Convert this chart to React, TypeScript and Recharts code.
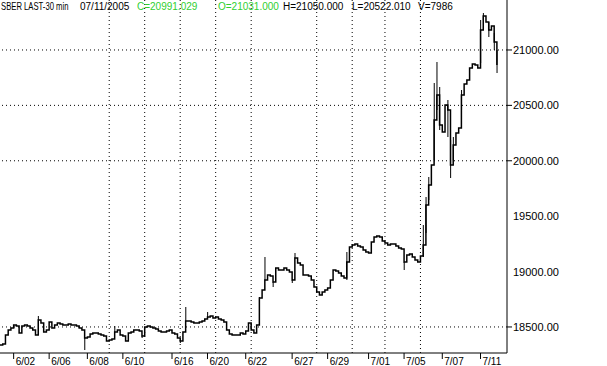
/**
 * SBER 30-minute price chart, 6/01 - 7/11/2005.
 */

import React from 'react';
import { ComposedChart, Line, Bar, XAxis, YAxis, ReferenceLine } from 'recharts';

// ============================================================================
// DATA
// ============================================================================

// close of each sampled bar, in order
const closes = [
  18337, 18346, 18428, 18473, 18491, 18518, 18509, 18446, 18509, 18518,
  18509, 18491, 18473, 18428, 18563, 18536, 18455, 18473, 18545, 18491,
  18518, 18536, 18527, 18518, 18518, 18527, 18518, 18518, 18509, 18491,
  18473, 18401, 18410, 18437, 18446, 18446, 18437, 18428, 18419, 18373,
  18382, 18392, 18455, 18473, 18428, 18419, 18373, 18446, 18455, 18473,
  18473, 18464, 18419, 18500, 18509, 18500, 18491, 18482, 18464, 18455,
  18455, 18464, 18473, 18446, 18437, 18401, 18373, 18455, 18554, 18554,
  18545, 18536, 18536, 18545, 18554, 18572, 18590, 18599, 18581, 18590,
  18572, 18563, 18545, 18473, 18437, 18428, 18428, 18428, 18446, 18437,
  18464, 18536, 18473, 18446, 18518, 18762, 18834, 18924, 18969, 18960,
  18906, 19032, 19014, 19014, 19032, 19014, 18996, 18924, 19123, 19077,
  19059, 18969, 18969, 18960, 18924, 18861, 18816, 18789, 18816, 18834,
  18852, 18924, 19014, 19005, 18987, 18960, 18942, 19086, 19222, 19240,
  19249, 19231, 19222, 19195, 19177, 19168, 19267, 19312, 19321, 19312,
  19276, 19258, 19240, 19249, 19249, 19231, 19213, 19204, 19086, 19150,
  19159, 19132, 19104, 19086, 19141, 19240, 19601, 19781, 19962, 20368,
  20594, 20323, 20260, 20503, 20458, 19962, 20142, 20251, 20296, 20594,
  20693, 20729, 20837, 20873, 20864, 20837, 21180, 21307, 21252, 21180,
  21216, 21072, 20864,
];

// [bar index, low, high] for bars with a visible high-low range
const wicks: [number, number, number][] = [
  [14, 18563, 18599], [31, 18292, 18410], [42, 18455, 18509], [52, 18401, 18419],
  [66, 18355, 18373], [68, 18554, 18680], [76, 18590, 18635], [95, 18635, 18771],
  [97, 18924, 19132], [100, 18861, 18906], [107, 18897, 18924], [108, 19123, 19168],
  [127, 18924, 19177], [148, 19014, 19086], [155, 19132, 19420], [156, 19348, 19673],
  [157, 19646, 19854], [159, 20007, 20702], [160, 20458, 20891], [161, 20278, 20666],
  [164, 20215, 20548], [165, 19845, 20187], [166, 20007, 20215], [169, 20458, 20639],
  [176, 20882, 21270], [177, 21270, 21334], [179, 21117, 21252], [181, 21000, 21153],
  [182, 20792, 21000],
];

const dayTicks = [5, 18, 32, 45, 63, 76, 90, 107, 120, 135, 148, 162, 176];
const dayLabels = ['6/02', '6/06', '6/08', '6/10', '6/16', '6/20', '6/22', '6/27', '6/29', '7/01', '7/05', '7/07', '7/11'];

const priceTicks = [18500, 19000, 19500, 20000, 20500, 21000];
const gridPrices = [18500, 20000, 20500, 21000];
const gridBars = [40, 53, 66, 79, 92, 116, 129, 141, 154];

// ============================================================================
// CONSTANTS
// ============================================================================

const FONT = '"Liberation Sans", Arial, sans-serif';
const GREEN = '#2fcf2f';

const chartData = closes.map((close, i) => {
  const w = wicks.find((row) => row[0] === i);
  return { i, close, wick: w ? [w[1], w[2]] : null };
});

// header pieces: text, left edge, horizontal squeeze, colour
const header = [
  { text: 'SBER LAST-30 min', x: 1, sx: 0.77, color: '#000' },
  { text: '07/11/2005', x: 80, sx: 1, color: '#000' },
  { text: 'C=20991.029', x: 137, sx: 1, color: GREEN },
  { text: 'O=21031.000', x: 218, sx: 1, color: GREEN },
  { text: 'H=21050.000', x: 283, sx: 1, color: '#000' },
  { text: 'L=20522.010', x: 352, sx: 1, color: '#000' },
  { text: 'V=7986', x: 418, sx: 1, color: '#000' },
];

// ============================================================================
// COMPONENT
// ============================================================================

const DayTick = ({ x, y, payload }: any) => {
  const idx = dayTicks.indexOf(payload.value);
  return (
    <text x={x + 2} y={y + 4} fontSize={10} fill="#000" fontFamily={FONT} textAnchor="start">
      {dayLabels[idx]}
    </text>
  );
};

const PriceTick = ({ x, y, payload }: any) => (
  <g>
    {gridPrices.includes(payload.value) && (
      <line x1={x - 6} x2={x - 1} y1={y} y2={y} stroke="#000" />
    )}
    <text x={x} y={y + 4} fontSize={11} fill="#000" fontFamily={FONT} textAnchor="start">
      {payload.value.toFixed(2)}
    </text>
  </g>
);

export default function App() {
  return (
    <div style={{ position: 'absolute', left: 0, top: 0, width: 607, height: 366, background: '#fff', overflow: 'hidden' }}>
      <ComposedChart
        width={607}
        height={366}
        data={chartData}
        margin={{ top: 0, right: 50, bottom: 0, left: 0 }}
      >
        {gridPrices.map((p) => (
          <ReferenceLine key={`h${p}`} y={p} stroke="#000" strokeDasharray="1 3" />
        ))}
        {gridBars.map((b) => (
          <ReferenceLine key={`v${b}`} x={b} stroke="#000" strokeDasharray="1 3" />
        ))}
        <XAxis
          dataKey="i"
          type="number"
          domain={[0, 185.7]}
          ticks={dayTicks}
          interval={0}
          allowDataOverflow
          height={13}
          tickSize={6}
          tickMargin={2}
          axisLine={{ stroke: '#000' }}
          tickLine={{ stroke: '#000' }}
          tick={<DayTick />}
        />
        <YAxis
          orientation="right"
          type="number"
          domain={[18265, 21451]}
          ticks={priceTicks}
          interval={0}
          allowDataOverflow
          width={50}
          tickSize={5}
          tickMargin={1}
          axisLine={{ stroke: '#000' }}
          tickLine={false}
          tick={<PriceTick />}
        />
        <Bar dataKey="wick" fill="#000" barSize={1} isAnimationActive={false} />
        <Line
          type="stepAfter"
          dataKey="close"
          stroke="#000"
          strokeWidth={1.5}
          dot={false}
          isAnimationActive={false}
        />
      </ComposedChart>
      <svg width={607} height={14} style={{ position: 'absolute', left: 0, top: 0 }}>
        {header.map((h) => (
          <text
            key={h.text}
            x={0}
            y={0}
            transform={`translate(${h.x},10) scale(${h.sx},1)`}
            fontSize={10}
            fontFamily={FONT}
            fill={h.color}
          >
            {h.text}
          </text>
        ))}
      </svg>
    </div>
  );
}
